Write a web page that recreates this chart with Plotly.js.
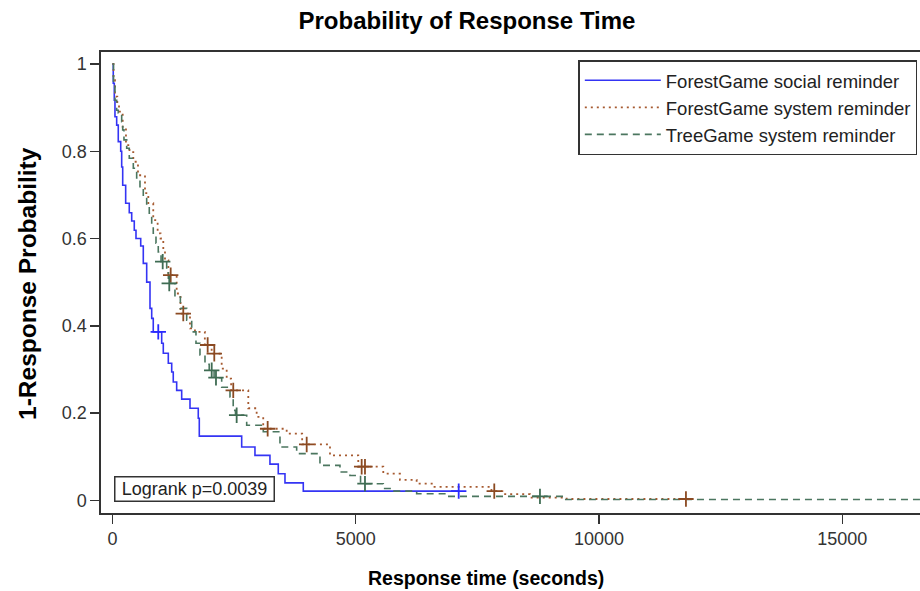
<!DOCTYPE html>
<html>
<head>
<meta charset="utf-8">
<script src="https://cdn.plot.ly/plotly-3.0.1.min.js"></script>
<style>html,body{margin:0;padding:0;background:#fff;}#chart{width:920px;height:591px;}</style>
</head>
<body>
<div id="chart"></div>
<script>
// ---- Data ----
// ForestGame social reminder
var tSocial = [0, 18, 39, 53, 88, 121, 171, 191, 212, 273, 347, 397, 450, 485, 582, 635, 705, 773, 808, 840, 1013, 1046, 1149, 1219, 1251, 1321, 1424, 1595, 1765, 1786, 2657, 2930, 3238, 3409, 3547, 3923, 7117];
var sSocial = [1, 0.956, 0.917, 0.879, 0.86, 0.822, 0.80, 0.764, 0.722, 0.681, 0.659, 0.64, 0.619, 0.60, 0.583, 0.543, 0.50, 0.44, 0.417, 0.386, 0.36, 0.337, 0.314, 0.294, 0.271, 0.252, 0.232, 0.211, 0.188, 0.147, 0.122, 0.103, 0.083, 0.061, 0.040, 0.021, 0.021];
var cSocialT = [943, 7117];
var cSocialS = [0.386, 0.021];

// ForestGame system reminder
var tForestSys = [0, 23, 53, 101, 136, 212, 279, 351, 430, 526, 670, 738, 840, 930, 990, 1046, 1081, 1150, 1321, 1400, 1595, 1697, 1900, 2040, 2246, 2349, 2440, 2793, 2965, 3100, 3582, 3900, 4472, 5053, 5567, 5909, 6253, 6594, 7790, 8033, 8581, 9336, 11787];
var sForestSys = [1, 0.963, 0.925, 0.906, 0.891, 0.856, 0.814, 0.798, 0.776, 0.745, 0.704, 0.681, 0.642, 0.612, 0.60, 0.573, 0.55, 0.516, 0.474, 0.428, 0.394, 0.386, 0.356, 0.336, 0.302, 0.279, 0.252, 0.211, 0.191, 0.164, 0.153, 0.128, 0.103, 0.077, 0.061, 0.047, 0.038, 0.031, 0.021, 0.014, 0.006, 0.003, 0.003];
var cForestSysT = [1198, 1457, 1958, 2094, 2484, 3191, 3993, 5123, 5191, 7848, 11787];
var cForestSysS = [0.516, 0.428, 0.356, 0.336, 0.252, 0.164, 0.128, 0.077, 0.077, 0.021, 0.003];

// TreeGame system reminder
var tTree = [0, 23, 53, 88, 121, 191, 212, 238, 294, 347, 430, 499, 567, 635, 705, 758, 808, 840, 896, 943, 1000, 1116, 1150, 1286, 1397, 1527, 1630, 1718, 1800, 1903, 1990, 2090, 2246, 2417, 2483, 2530, 2760, 3101, 3444, 3787, 4266, 4677, 4882, 5100, 5567, 5772, 6253, 6870, 9300, 17000];
var sTree = [1, 0.959, 0.917, 0.894, 0.888, 0.868, 0.849, 0.826, 0.807, 0.784, 0.761, 0.739, 0.719, 0.696, 0.677, 0.658, 0.631, 0.612, 0.589, 0.569, 0.547, 0.528, 0.497, 0.466, 0.44, 0.413, 0.386, 0.36, 0.333, 0.312, 0.298, 0.281, 0.259, 0.237, 0.206, 0.195, 0.172, 0.157, 0.122, 0.107, 0.080, 0.065, 0.057, 0.038, 0.027, 0.021, 0.015, 0.009, 0.002, 0.002];
var cTreeT = [1034, 1169, 2041, 2129, 2554, 5191, 8787];
var cTreeS = [0.547, 0.497, 0.298, 0.281, 0.195, 0.038, 0.009];

var seriesNames = ['ForestGame social reminder', 'ForestGame system reminder', 'TreeGame system reminder'];
var yTickVals = [0, 0.2, 0.4, 0.6, 0.8, 1];
var yTickText = ['0', '0.2', '0.4', '0.6', '0.8', '1'];
var xTickVals = [0, 5000, 10000, 15000];
var xTickText = ['0', '5000', '10000', '15000'];

var FONT = 'Liberation Sans, Arial, Helvetica, sans-serif';
var cBlue = '#3434f4', cBrown = '#a65a30', cGreen = '#4b765f';

function censor(x, y, col) {
  return {x: x, y: y, type: 'scatter', mode: 'markers', showlegend: false, hoverinfo: 'skip',
    marker: {symbol: 'cross-thin', size: 11, color: col, line: {color: col, width: 1.8}}};
}

var data = [
  {x: tSocial, y: sSocial, name: seriesNames[0], type: 'scatter', mode: 'lines',
   line: {shape: 'hv', color: cBlue, width: 1.6}},
  {x: tForestSys, y: sForestSys, name: seriesNames[1], type: 'scatter', mode: 'lines',
   line: {shape: 'hv', color: cBrown, width: 1.8, dash: '2px,4px'}},
  {x: tTree, y: sTree, name: seriesNames[2], type: 'scatter', mode: 'lines',
   line: {shape: 'hv', color: cGreen, width: 1.6, dash: '7px,5px'}},
  censor(cSocialT, cSocialS, '#2a2aff'),
  censor(cForestSysT, cForestSysS, '#8b4a22'),
  censor(cTreeT, cTreeS, '#3f6c53')
];

var layout = {
  width: 920, height: 591,
  margin: {l: 101, r: 0, t: 52, b: 78, autoexpand: false},
  paper_bgcolor: '#ffffff', plot_bgcolor: '#ffffff',
  font: {family: FONT, size: 18, color: '#222'},
  title: {text: 'Probability of Response Time', font: {family: FONT, size: 24, color: '#000', weight: 'bold'},
          xref: 'container', x: 0.5076, xanchor: 'center', yref: 'container', y: 0.9645, yanchor: 'middle'},
  xaxis: {range: [-234, 16597], tickvals: xTickVals, ticktext: xTickText, showgrid: false, zeroline: false,
          showline: true, linecolor: '#333', linewidth: 1.6, mirror: true, ticks: 'outside', ticklen: 9,
          tickwidth: 1.5, tickcolor: '#333', tickfont: {family: FONT, size: 18, color: '#333'}},
  yaxis: {range: [-0.0291, 1.0275], tickvals: yTickVals, ticktext: yTickText, showgrid: false, zeroline: false,
          showline: true, linecolor: '#333', linewidth: 1.6, ticks: 'outside', ticklen: 9,
          tickwidth: 1.5, tickcolor: '#333', tickfont: {family: FONT, size: 18, color: '#333'}},
  showlegend: true,
  legend: {x: 0.5828, y: 0.982, xanchor: 'left', yanchor: 'top', bgcolor: '#fff', bordercolor: '#333',
           borderwidth: 1.5, font: {family: FONT, size: 18.5, color: '#222'}, itemwidth: 76, tracegroupgap: 0},
  annotations: [
    {text: 'Response time (seconds)', xref: 'paper', yref: 'paper', x: 0.470, y: -0.141, xanchor: 'center', yanchor: 'middle',
     showarrow: false, font: {family: FONT, size: 19.5, color: '#000', weight: 'bold'}},
    {text: '1-Response Probability', xref: 'paper', yref: 'paper', x: -0.0891, y: 0.497, xanchor: 'center', yanchor: 'middle',
     textangle: -90, showarrow: false, font: {family: FONT, size: 24.5, color: '#000', weight: 'bold'}},
    {text: 'Logrank p=0.0039', xref: 'paper', yref: 'paper', x: 0.1136, y: 0.0531, xanchor: 'center', yanchor: 'middle',
     showarrow: false, bgcolor: '#fff', bordercolor: '#333', borderwidth: 1.5, borderpad: 2, width: 154, height: 19,
     font: {family: FONT, size: 18, color: '#222'}}
  ]
};

Plotly.newPlot('chart', data, layout, {staticPlot: true, displayModeBar: false});
</script>
</body>
</html>
